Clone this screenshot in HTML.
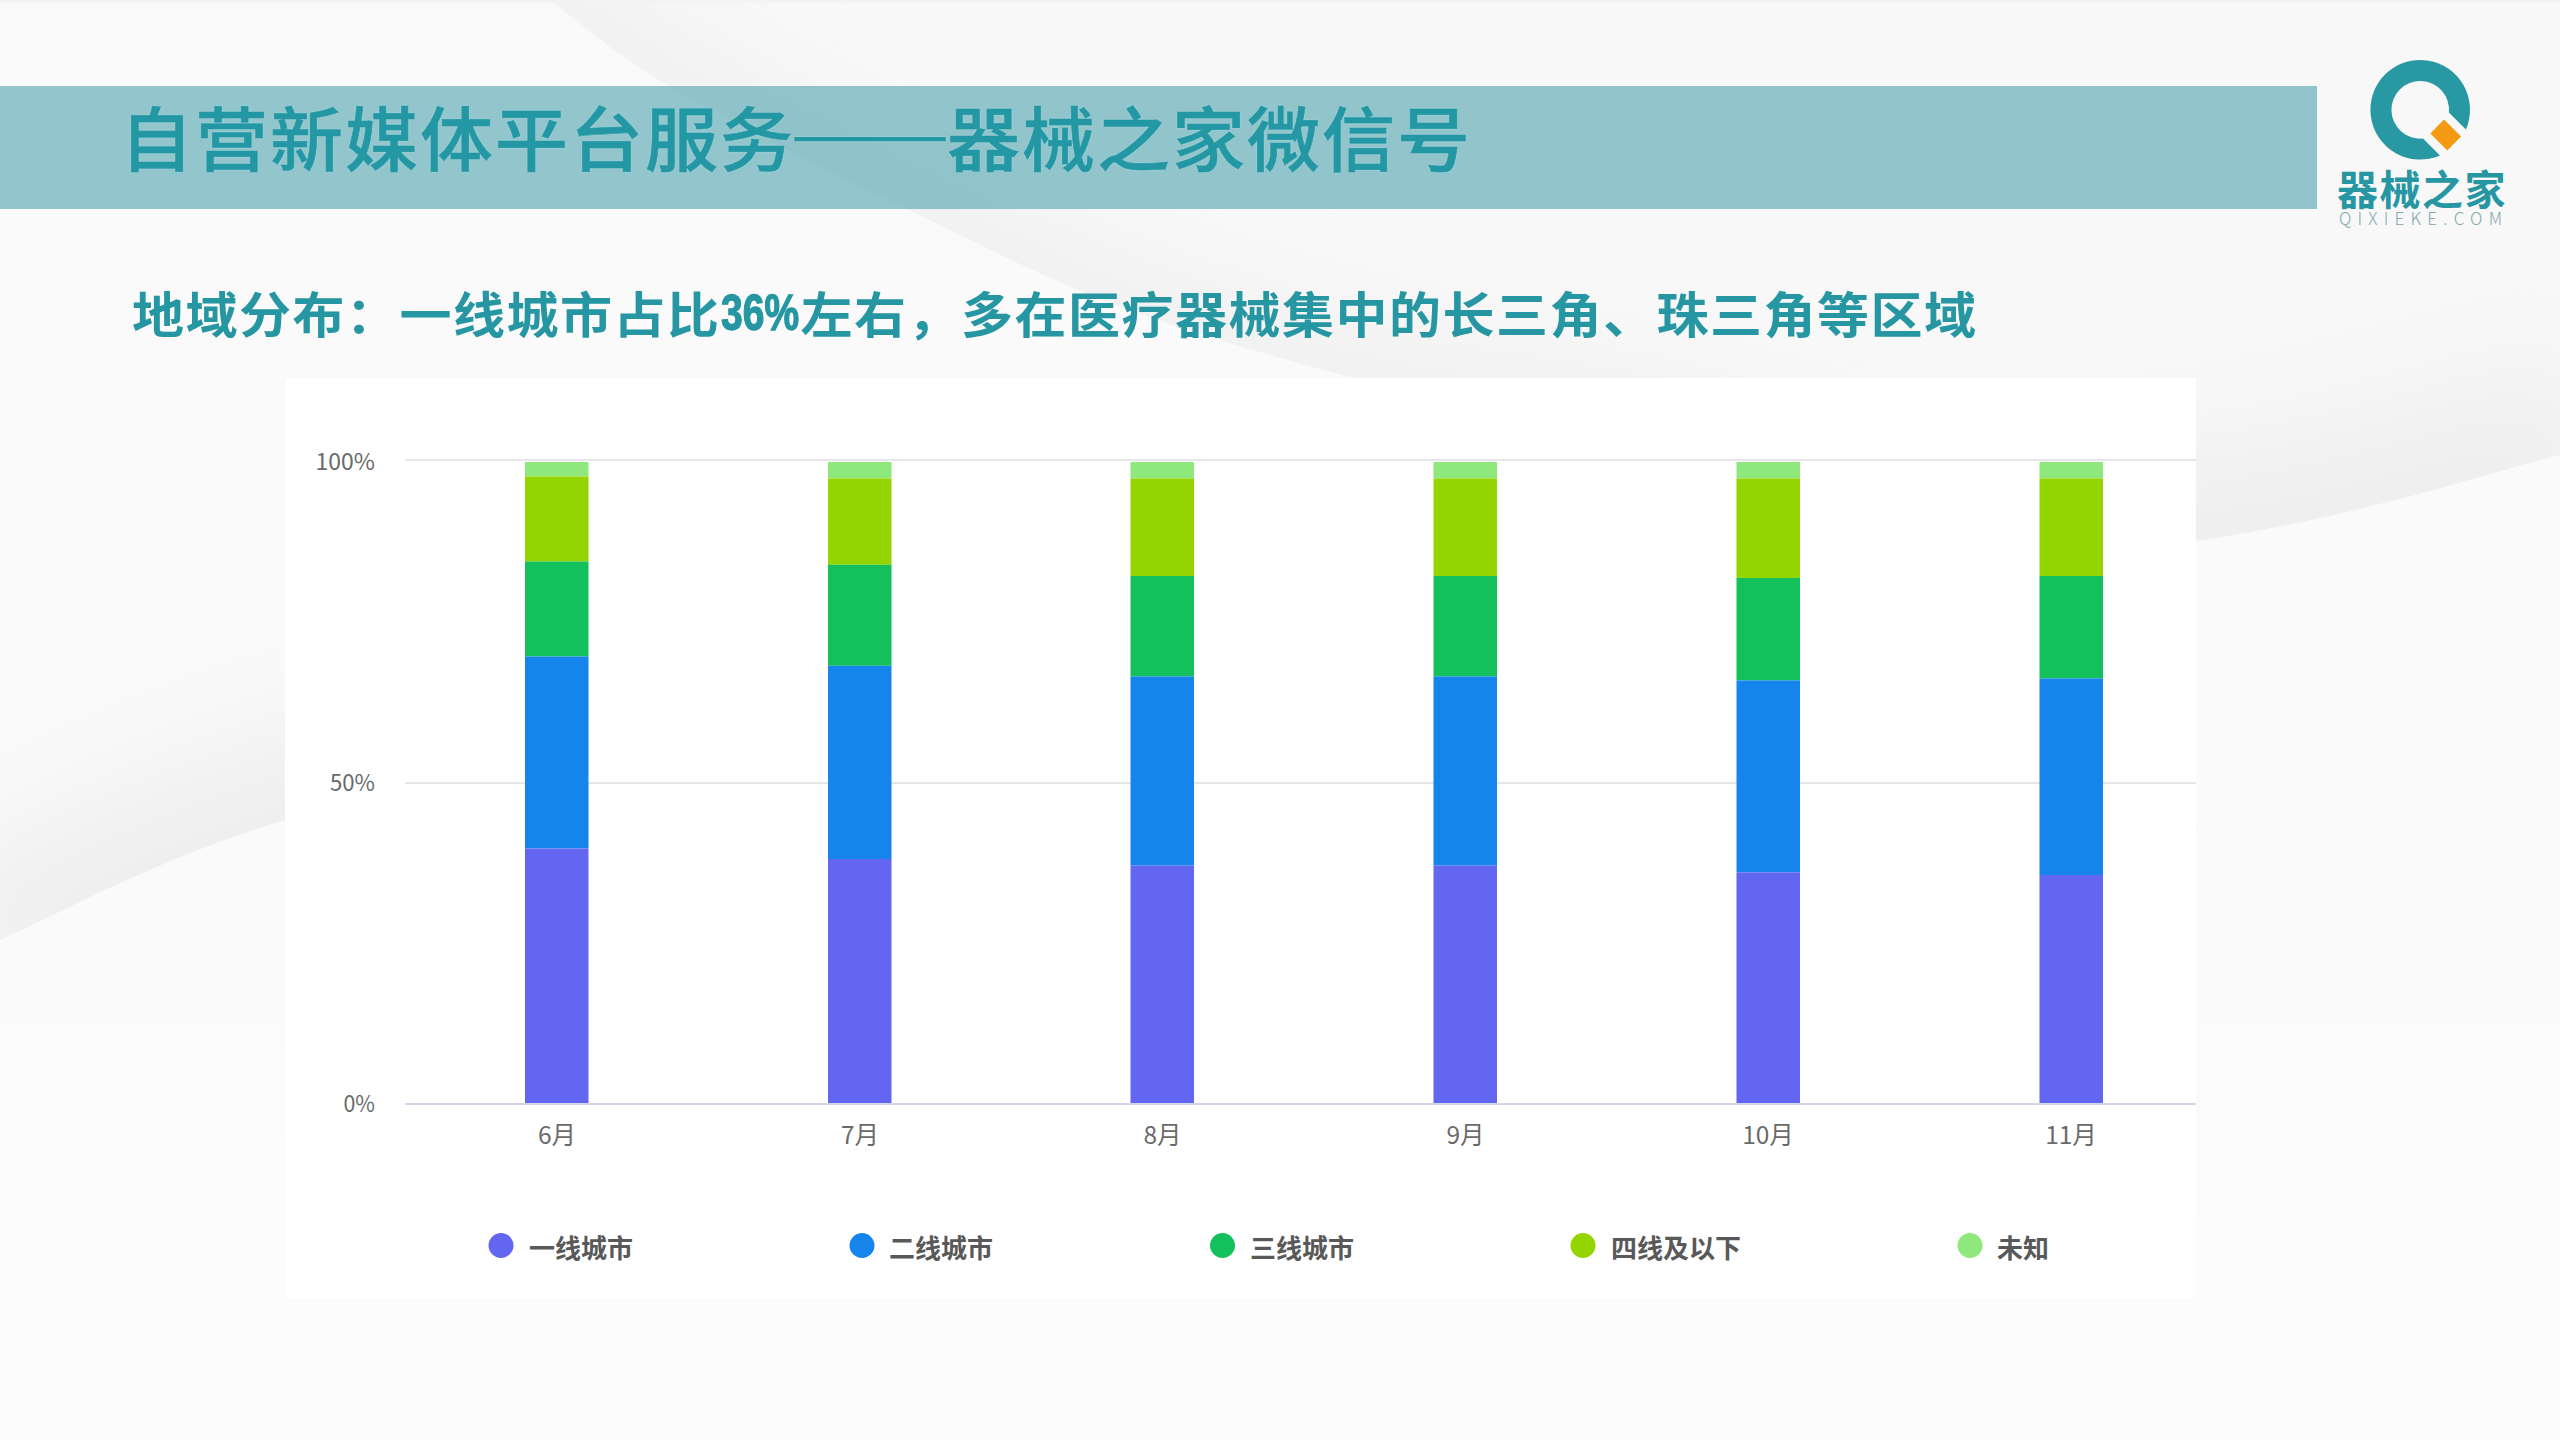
<!DOCTYPE html>
<html lang="zh-CN">
<head>
<meta charset="utf-8">
<title>自营新媒体平台服务——器械之家微信号</title>
<style>
html,body{margin:0;padding:0;}
body{width:2560px;height:1440px;position:relative;overflow:hidden;background:#f6f6f6;font-family:"Liberation Sans","Noto Sans CJK SC",sans-serif;}
#bg{position:absolute;left:0;top:0;}
.band{position:absolute;left:0;top:86px;width:2317px;height:123px;background:rgba(78,164,174,0.6);}
.title{position:absolute;left:120px;top:87px;height:123px;line-height:100px;font-family:"Noto Sans CJK SC",sans-serif;font-weight:500;font-size:73px;letter-spacing:2px;color:#2397a3;-webkit-text-stroke:0.6px #2397a3;white-space:nowrap;transform:scaleY(0.96);transform-origin:0 19px;text-shadow:0 0 2px rgba(175,228,236,0.9);}
.title .dash{display:inline-block;width:152px;position:relative;letter-spacing:0;}
.title .dash span{display:inline-block;position:relative;left:-5px;top:-8px;font-weight:400;-webkit-text-stroke:0;transform:scaleX(1.31);transform-origin:0 50%;}
.sub{position:absolute;left:132px;top:275.5px;line-height:72px;font-family:"Noto Sans CJK SC",sans-serif;font-weight:700;font-size:52px;letter-spacing:1.5px;color:#2596a2;white-space:nowrap;transform:scaleY(0.95);transform-origin:0 50%;}
.sub .num{display:inline-block;width:80px;letter-spacing:0;}
.sub .num span{display:inline-block;position:relative;top:-3px;font-family:"Liberation Sans",sans-serif;font-weight:700;-webkit-text-stroke:1.4px #2596a2;transform:scaleX(.75);transform-origin:0 50%;}
.chartbox{position:absolute;left:285px;top:378px;width:1911px;height:920px;background:#fff;}
#chart{position:absolute;left:0;top:0;}
.logo-cn{position:absolute;left:2337px;top:158px;font-family:"Noto Sans CJK SC",sans-serif;font-weight:700;font-size:41px;line-height:58px;letter-spacing:1.5px;color:#2596a2;white-space:nowrap;}
.logo-en{position:absolute;left:2339px;top:205px;font-family:"Noto Sans CJK SC",sans-serif;font-weight:300;font-size:17px;line-height:26px;letter-spacing:6.2px;color:#7fa9ac;white-space:nowrap;}
</style>
</head>
<body>
<svg id="bg" width="2560" height="1440" viewBox="0 0 2560 1440">
  <defs>
    <filter id="bl1" x="-20%" y="-50%" width="140%" height="200%"><feGaussianBlur stdDeviation="40"/></filter>
    <filter id="bl3" x="-20%" y="-50%" width="140%" height="200%"><feGaussianBlur stdDeviation="55"/></filter>
    <linearGradient id="s2g" x1="0" y1="0" x2="0" y2="1">
      <stop offset="0.3" stop-color="#fafafa"/>
      <stop offset="1" stop-color="#fcfcfc"/>
    </linearGradient>
  </defs>
  <rect width="2560" height="1440" fill="#f8f8f8"/>
  <path d="M500 -40 C508 -33 522 -21 550 0 C578 21 610 51 669 86 C728 121 835 174 907 209 C979 244 1032 272 1100 299 C1168 326 1258 352 1316 368 C1374 384 1381 383 1445 395 C1509 407 1608 416 1700 440 C1792 464 1900 500 2000 540 C2100 580 2200 633 2300 680 C2400 727 2550 797 2600 820" fill="none" stroke="#f1f1f1" stroke-width="110" filter="url(#bl1)"/>
  <path d="M500 -40 C508 -33 522 -21 550 0 C578 21 610 51 669 86 C728 121 835 174 907 209 C979 244 1032 272 1100 299 C1168 326 1258 352 1316 368 C1374 384 1381 383 1445 395 C1509 407 1608 416 1700 440 C1792 464 1900 500 2000 540 C2100 580 2200 633 2300 680 C2400 727 2550 797 2600 820 L2600 1500 L-40 1500 L-40 -40 Z" fill="#fafafa"/>
  <path d="M-40 960 C-33 957 -54 963 0 940 C54 917 152 860 285 820 C418 780 598 733 800 700 C1002 667 1267 646 1500 620 C1733 594 2019 568 2196 541 C2373 514 2493 471 2560 455 C2627 439 2593 447 2600 445" fill="none" stroke="#eeeeee" stroke-width="170" filter="url(#bl3)"/>
  <path d="M-40 960 C-33 957 -54 963 0 940 C54 917 152 860 285 820 C418 780 598 733 800 700 C1002 667 1267 646 1500 620 C1733 594 2019 568 2196 541 C2373 514 2493 471 2560 455 C2627 439 2593 447 2600 445 L2600 1500 L-40 1500 Z" fill="url(#s2g)"/>
  <rect x="0" y="0" width="2560" height="3" fill="#f3f3f3"/>
</svg>

<div class="band"></div>
<div class="title">自营新媒体平台服务<span class="dash"><span>——</span></span>器械之家微信号</div>

<svg id="logo" style="position:absolute;left:0;top:0" width="2560" height="240" viewBox="0 0 2560 240">
  <path d="M2465.9 129.6 A49.8 49.8 0 1 0 2440 155.5 L2423 138.5 A28.8 28.8 0 1 1 2448.9 112.6 Z" fill="#2898a3"/>
  <rect x="2433.7" y="125.25" width="24" height="19.5" transform="rotate(45 2445.7 135)" fill="#f39a12"/>
</svg>
<div class="logo-cn">器械之家</div>
<div class="logo-en">QIXIEKE.COM</div>

<div class="sub">地域分布：一线城市占比<span class="num"><span>36%</span></span>左右，多在医疗器械集中的长三角、珠三角等区域</div>

<div class="chartbox"></div>
<svg id="chart" width="2560" height="1440" viewBox="0 0 2560 1440" font-family="'Noto Sans CJK SC',sans-serif">
  <g stroke-width="2" shape-rendering="crispEdges">
    <line x1="405" y1="460" x2="2196" y2="460" stroke="#e6e6e9"/>
    <line x1="405" y1="783" x2="2196" y2="783" stroke="#e6e6e9"/>
  </g>
  <g id="bars">
    <rect x="525" y="462" width="63.5" height="14.5" fill="#8ee87c"/>
    <rect x="525" y="476.5" width="63.5" height="85.0" fill="#94d400"/>
    <rect x="525" y="561.5" width="63.5" height="95.0" fill="#14c05c"/>
    <rect x="525" y="656.5" width="63.5" height="192.0" fill="#1585ec"/>
    <rect x="525" y="848.5" width="63.5" height="254.5" fill="#6366f1"/>
    <rect x="828" y="462" width="63.5" height="16.5" fill="#8ee87c"/>
    <rect x="828" y="478.5" width="63.5" height="86.3" fill="#94d400"/>
    <rect x="828" y="564.8" width="63.5" height="101.0" fill="#14c05c"/>
    <rect x="828" y="665.8" width="63.5" height="193.2" fill="#1585ec"/>
    <rect x="828" y="859" width="63.5" height="244" fill="#6366f1"/>
    <rect x="1130.5" y="462" width="63.5" height="16.5" fill="#8ee87c"/>
    <rect x="1130.5" y="478.5" width="63.5" height="97.5" fill="#94d400"/>
    <rect x="1130.5" y="576" width="63.5" height="100.4" fill="#14c05c"/>
    <rect x="1130.5" y="676.4" width="63.5" height="189.2" fill="#1585ec"/>
    <rect x="1130.5" y="865.6" width="63.5" height="237.4" fill="#6366f1"/>
    <rect x="1433.5" y="462" width="63.5" height="16.5" fill="#8ee87c"/>
    <rect x="1433.5" y="478.5" width="63.5" height="97.5" fill="#94d400"/>
    <rect x="1433.5" y="576" width="63.5" height="100.4" fill="#14c05c"/>
    <rect x="1433.5" y="676.4" width="63.5" height="189.2" fill="#1585ec"/>
    <rect x="1433.5" y="865.6" width="63.5" height="237.4" fill="#6366f1"/>
    <rect x="1736.5" y="462" width="63.5" height="16.5" fill="#8ee87c"/>
    <rect x="1736.5" y="478.5" width="63.5" height="99.5" fill="#94d400"/>
    <rect x="1736.5" y="578" width="63.5" height="102.4" fill="#14c05c"/>
    <rect x="1736.5" y="680.4" width="63.5" height="191.9" fill="#1585ec"/>
    <rect x="1736.5" y="872.3" width="63.5" height="230.7" fill="#6366f1"/>
    <rect x="2039.5" y="462" width="63.5" height="16.5" fill="#8ee87c"/>
    <rect x="2039.5" y="478.5" width="63.5" height="97.5" fill="#94d400"/>
    <rect x="2039.5" y="576" width="63.5" height="102.4" fill="#14c05c"/>
    <rect x="2039.5" y="678.4" width="63.5" height="196.6" fill="#1585ec"/>
    <rect x="2039.5" y="875" width="63.5" height="228" fill="#6366f1"/>
  </g>
  <line x1="405" y1="1104" x2="2196" y2="1104" stroke="#d3d6e6" stroke-width="2" shape-rendering="crispEdges"/>
  <g font-weight="400" font-size="23.5" fill="#6a6a6a">
    <text x="315.5" y="469.5" textLength="59.5" lengthAdjust="spacingAndGlyphs">100%</text>
    <text x="330" y="791" textLength="45" lengthAdjust="spacingAndGlyphs">50%</text>
    <text x="343.5" y="1111.5" textLength="31.5" lengthAdjust="spacingAndGlyphs">0%</text>
  </g>
  <g font-weight="400" font-size="24.5" fill="#6a6a6a" text-anchor="middle">
    <text x="557" y="1144">6月</text>
    <text x="860" y="1144">7月</text>
    <text x="1162.5" y="1144">8月</text>
    <text x="1465.5" y="1144">9月</text>
    <text x="1768" y="1144">10月</text>
    <text x="2071" y="1144">11月</text>
  </g>
  <g font-weight="700" font-size="26" fill="#595959">
    <circle cx="501" cy="1245.5" r="12.5" fill="#6366f1"/>
    <text x="529" y="1258">一线城市</text>
    <circle cx="862" cy="1245.5" r="12.5" fill="#1585ec"/>
    <text x="889" y="1258">二线城市</text>
    <circle cx="1222.5" cy="1245.5" r="12.5" fill="#14c05c"/>
    <text x="1250" y="1258">三线城市</text>
    <circle cx="1583" cy="1245.5" r="12.5" fill="#94d400"/>
    <text x="1611" y="1258">四线及以下</text>
    <circle cx="1970" cy="1245.5" r="12.5" fill="#8ee87c"/>
    <text x="1997" y="1258">未知</text>
  </g>
</svg>
</body>
</html>
